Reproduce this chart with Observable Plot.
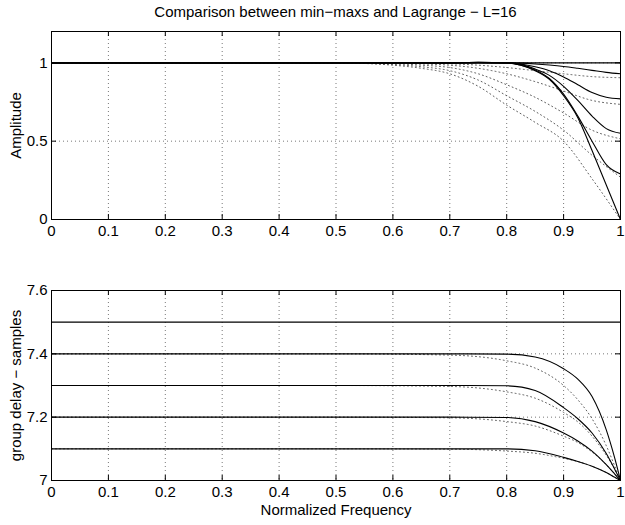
<!DOCTYPE html>
<html>
<head>
<meta charset="utf-8">
<script src="https://cdn.jsdelivr.net/npm/d3@7"></script>
<script src="https://cdn.jsdelivr.net/npm/@observablehq/plot@0.6"></script>
<style>
  body { margin: 0; background: #fff; }
  #wrap { position: relative; width: 625px; height: 525px; font-family: "Liberation Sans", Arial, sans-serif; }
  #title { position: absolute; left: 51px; width: 569px; top: 3px; text-align: center; font-size: 15px; line-height: 17px; color: #000; white-space: nowrap; }
  #top, #bottom { position: absolute; left: 0; }
  #top { top: 0; }
  #bottom { top: 260px; }
</style>
</head>
<body>
<div id="wrap">
  <div id="title"></div>
  <div id="top"></div>
  <div id="bottom"></div>
</div>
<script>
// ---- texts ----
const titleText = "Comparison between min\u2212maxs and Lagrange \u2212 L=16";
const yLabelTop = "Amplitude";
const yLabelBottom = "group delay \u2212 samples";
const xLabel = "Normalized Frequency";

// ---- ticks ----
const xTicks = [0, 0.1, 0.2, 0.3, 0.4, 0.5, 0.6, 0.7, 0.8, 0.9, 1];
const xGrid = [0.1, 0.2, 0.3, 0.4, 0.5, 0.6, 0.7, 0.8, 0.9];
const yTicksTop = [0, 0.5, 1];
const yGridTop = [0.5, 1];
const yTicksBottom = [7, 7.2, 7.4, 7.6];
const yGridBottom = [7.2, 7.4];

// ---- amplitude: min-max designs (solid) ----
const freqAmpMinmax = [0, 0.5, 0.7, 0.75, 0.8, 0.825, 0.85, 0.875, 0.9, 0.925, 0.95, 0.975, 1];
const ampMinmaxD0 = [1, 1, 1, 1, 1, 1, 1, 1, 1, 1, 1, 1, 1];
const ampMinmaxD1 = [1, 1, 1, 1, 1, 0.998, 0.993, 0.986, 0.977, 0.965, 0.952, 0.939, 0.93];
const ampMinmaxD2 = [1, 1, 1, 1.001, 1, 0.992, 0.975, 0.95, 0.91, 0.86, 0.81, 0.78, 0.77];
const ampMinmaxD3 = [1, 1, 1, 1.002, 1, 0.99, 0.96, 0.92, 0.85, 0.76, 0.66, 0.58, 0.55];
const ampMinmaxD4 = [1, 1, 1, 1.003, 1, 0.985, 0.955, 0.9, 0.8, 0.66, 0.5, 0.35, 0.29];
const ampMinmaxD5 = [1, 1, 1, 1.003, 1, 0.985, 0.95, 0.895, 0.79, 0.65, 0.44, 0.22, 0];

// ---- amplitude: Lagrange (dotted) ----
const freqAmpLagr = [0, 0.5, 0.55, 0.6, 0.65, 0.7, 0.75, 0.8, 0.85, 0.9, 0.95, 1];
const ampLagrD1 = [1, 1, 1, 0.999, 0.997, 0.994, 0.985, 0.97, 0.95, 0.93, 0.912, 0.905];
const ampLagrD2 = [1, 1, 0.999, 0.997, 0.993, 0.985, 0.965, 0.93, 0.88, 0.82, 0.76, 0.735];
const ampLagrD3 = [1, 1, 0.998, 0.995, 0.985, 0.97, 0.93, 0.86, 0.78, 0.68, 0.57, 0.515];
const ampLagrD4 = [1, 1, 0.997, 0.99, 0.975, 0.95, 0.89, 0.79, 0.69, 0.57, 0.41, 0.27];
const ampLagrD5 = [1, 1, 0.996, 0.985, 0.965, 0.93, 0.85, 0.73, 0.62, 0.5, 0.26, 0];

// ---- group delay: min-max (solid) ----
const freqGd = [0, 0.5, 0.7, 0.8, 0.85, 0.9, 0.925, 0.95, 0.975, 0.99, 1];
const gdMinmax75 = [7.5, 7.5, 7.5, 7.5, 7.5, 7.5, 7.5, 7.5, 7.5, 7.5, 7.5];
const gdMinmax74 = [7.4, 7.4, 7.4, 7.399, 7.39, 7.353, 7.32, 7.265, 7.16, 7.07, 7.0];
const gdMinmax73 = [7.3, 7.3, 7.3, 7.299, 7.284, 7.23, 7.195, 7.15, 7.085, 7.035, 7.0];
const gdMinmax72 = [7.2, 7.2, 7.2, 7.199, 7.186, 7.15, 7.125, 7.093, 7.05, 7.02, 7.0];
const gdMinmax71 = [7.1, 7.1, 7.1, 7.1, 7.094, 7.073, 7.06, 7.045, 7.025, 7.01, 7.0];

// ---- group delay: Lagrange (dotted) ----
const gdLagr74 = [7.4, 7.4, 7.396, 7.378, 7.355, 7.3, 7.255, 7.195, 7.11, 7.045, 7.0];
const gdLagr73 = [7.3, 7.3, 7.297, 7.28, 7.26, 7.215, 7.185, 7.14, 7.08, 7.035, 7.0];
const gdLagr72 = [7.2, 7.2, 7.198, 7.186, 7.172, 7.14, 7.12, 7.09, 7.05, 7.02, 7.0];
const gdLagr71 = [7.1, 7.1, 7.099, 7.093, 7.086, 7.07, 7.06, 7.045, 7.025, 7.01, 7.0];

function tidy(freq, seriesList) {
  const out = [];
  seriesList.forEach((vals, s) => vals.forEach((v, i) => out.push({f: freq[i], v, s})));
  return out;
}

const ampSolid = tidy(freqAmpMinmax, [ampMinmaxD0, ampMinmaxD1, ampMinmaxD2, ampMinmaxD3, ampMinmaxD4, ampMinmaxD5]);
const ampDotted = tidy(freqAmpLagr, [ampLagrD1, ampLagrD2, ampLagrD3, ampLagrD4, ampLagrD5]);
const gdSolid = tidy(freqGd, [gdMinmax75, gdMinmax74, gdMinmax73, gdMinmax72, gdMinmax71]);
const gdDotted = tidy(freqGd, [gdLagr74, gdLagr73, gdLagr72, gdLagr71]);

document.getElementById("title").textContent = titleText;

const W = 625, ML = 51, MR = 5;
const font = {fontFamily: "'Liberation Sans', Arial, sans-serif", fontSize: "15px", color: "#000", background: "transparent", overflow: "visible"};
const gridStyle = {stroke: "#555", strokeWidth: 0.8, strokeDasharray: "1,3"};
const dotStyle = {stroke: "#333", strokeWidth: 0.8, strokeDasharray: "1,3"};

function panel({height, marginTop, marginBottom, yDomain, yTicks, yGrid, yLabel, solid, dotted, xLab}) {
  const ph = height - marginTop - marginBottom;
  const pw = W - ML - MR;
  const marks = [
    Plot.ruleX(xGrid, {x: d => d, ...gridStyle}),
    Plot.ruleY(yGrid, {y: d => d, ...gridStyle}),
    Plot.line(dotted, {x: "f", y: "v", z: "s", curve: "monotone-x", ...dotStyle}),
    Plot.line(solid, {x: "f", y: "v", z: "s", curve: "monotone-x", stroke: "#000", strokeWidth: 1.1}),
    // inward ticks on all four sides
    Plot.ruleX(xTicks, {x: d => d, insetTop: ph - 5, stroke: "#000"}),
    Plot.ruleX(xTicks, {x: d => d, insetBottom: ph - 5, stroke: "#000"}),
    Plot.ruleY(yTicks, {y: d => d, insetLeft: pw - 5, stroke: "#000"}),
    Plot.ruleY(yTicks, {y: d => d, insetRight: pw - 5, stroke: "#000"}),
    Plot.frame({stroke: "#000", strokeWidth: 1}),
    Plot.axisX(xTicks, {tickSize: 0, tickPadding: 6, tickFormat: d => String(d), label: xLab, labelAnchor: "center", labelArrow: "none", labelOffset: 34, fontSize: 15}),
    Plot.axisY(yTicks, {tickSize: 0, tickPadding: 4, tickFormat: d => String(d), label: yLabel, labelAnchor: "center", labelArrow: "none", labelOffset: 41, fontSize: 15})
  ];
  return Plot.plot({
    width: W, height, marginLeft: ML, marginRight: MR, marginTop, marginBottom,
    x: {domain: [0, 1]},
    y: {domain: yDomain},
    style: font,
    marks
  });
}

document.getElementById("top").append(panel({
  height: 250, marginTop: 31, marginBottom: 31,
  yDomain: [0, 1.2], yTicks: yTicksTop, yGrid: yGridTop, yLabel: yLabelTop,
  solid: ampSolid, dotted: ampDotted, xLab: null
}));

document.getElementById("bottom").append(panel({
  height: 265, marginTop: 30, marginBottom: 45,
  yDomain: [7, 7.6], yTicks: yTicksBottom, yGrid: yGridBottom, yLabel: yLabelBottom,
  solid: gdSolid, dotted: gdDotted, xLab: xLabel
}));
</script>
</body>
</html>
